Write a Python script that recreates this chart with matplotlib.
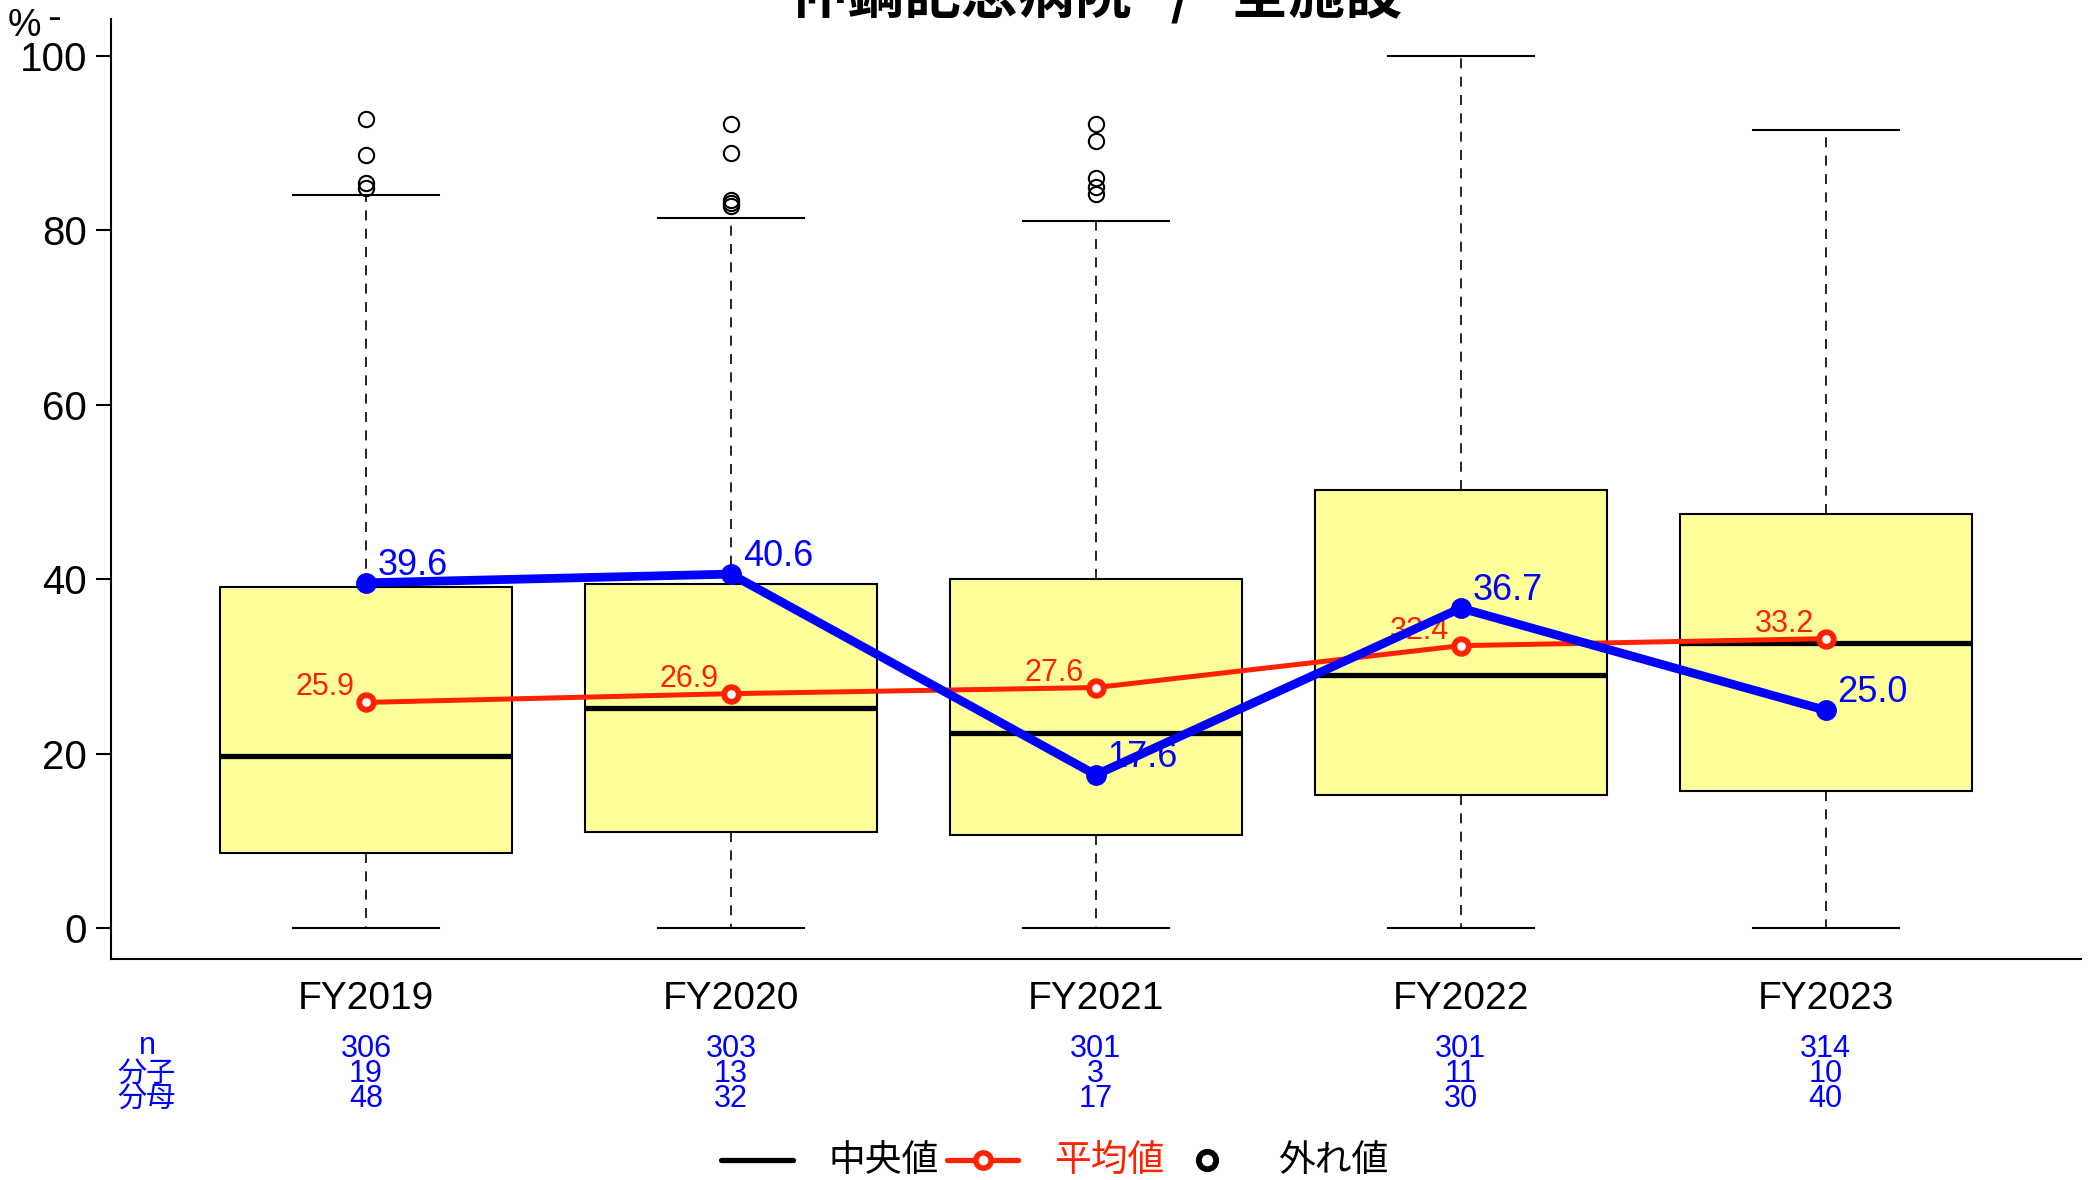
import matplotlib
matplotlib.use('Agg')
import matplotlib.pyplot as plt
from matplotlib.lines import Line2D
from matplotlib.transforms import blended_transform_factory
import matplotlib.font_manager as fm

# ---------------- data ----------------
years = ['FY2019', 'FY2020', 'FY2021', 'FY2022', 'FY2023']
q1 = [8.7, 11.0, 10.7, 15.3, 15.7]
med = [19.8, 25.3, 22.4, 29.0, 32.7]
q3 = [39.1, 39.5, 40.0, 50.2, 47.5]
whislo = [0, 0, 0, 0, 0]
whishi = [84.0, 81.4, 81.1, 100.0, 91.5]
fliers = [[92.7, 88.6, 85.4, 84.8],
          [92.2, 88.8, 83.5, 83.1, 82.8],
          [92.2, 90.2, 86.0, 85.0, 84.1],
          [], []]
means = [25.9, 26.9, 27.6, 32.4, 33.2]
hospital = [39.6, 40.6, 17.6, 36.7, 25.0]
n_vals = [306, 303, 301, 301, 314]
numer = [19, 13, 3, 11, 10]
denom = [48, 32, 17, 30, 40]
yticks = [0, 20, 40, 60, 80, 100]
title = '仲鋼記念病院   /   全施設'
row_labels = ['n', '分子', '分母']
legend_labels = ['中央値', '平均値', '外れ値']

# ---------------- fonts ----------------
def has_font(name):
    try:
        fm.findfont(fm.FontProperties(family=name), fallback_to_default=False)
        return True
    except Exception:
        return False

NARROW = 'Liberation Sans Narrow' if has_font('Liberation Sans Narrow') else 'Liberation Sans'
CJK = 'Noto Sans CJK JP'
plt.rcParams['font.family'] = [NARROW, CJK, 'DejaVu Sans']

W, H = 2089, 1180
fig = plt.figure(figsize=(W / 100, H / 100), dpi=100)
ax = fig.add_axes([110.6 / W, 1 - 959 / H, (2081 - 110.6) / W, (959 - 19) / H])

YELLOW = '#FFFF99'
RED = '#FF2200'
BLUE = '#0000FF'

pos = list(range(1, len(years) + 1))
stats = []
for i in range(len(years)):
    stats.append(dict(med=med[i], q1=q1[i], q3=q3[i], whislo=whislo[i],
                      whishi=whishi[i], fliers=fliers[i], label=years[i]))

ax.bxp(stats, positions=pos, widths=0.8, patch_artist=True,
       showfliers=True, capwidths=0.4,
       boxprops=dict(facecolor=YELLOW, edgecolor='black', linewidth=1.5),
       medianprops=dict(color='black', linewidth=3.8, solid_capstyle='butt'),
       whiskerprops=dict(color='black', linewidth=1.2, linestyle=(0, (6, 5))),
       capprops=dict(color='black', linewidth=1.5),
       flierprops=dict(marker='o', markersize=11, markerfacecolor='none',
                       markeredgecolor='black', markeredgewidth=1.5))

# mean line
ax.plot(pos, means, color=RED, linewidth=3.6, marker='o', markersize=10.5,
        markerfacecolor='white', markeredgecolor=RED, markeredgewidth=4.2,
        zorder=5)
for x, v in zip(pos, means):
    ax.annotate(f'{v:.1f}', (x, v), xytext=(-8.6, 5), textcoords='offset points',
                ha='right', va='baseline', color=RED, fontsize=22,
                family=NARROW, zorder=6)

# hospital line
ax.plot(pos, hospital, color=BLUE, linewidth=6.3, marker='o', markersize=14,
        markerfacecolor=BLUE, markeredgecolor=BLUE, zorder=7)
for x, v in zip(pos, hospital):
    ax.annotate(f'{v:.1f}', (x, v), xytext=(8.6, 5.8), textcoords='offset points',
                ha='left', va='baseline', color=BLUE, fontsize=26,
                family=NARROW, zorder=8)

ax.set_xlim(0.3, 5.7)
ax.set_ylim(-3.5, 104.2)
ax.set_xticks(pos)
ax.set_xticklabels(years, fontsize=28)
ax.set_yticks(yticks)
ax.set_yticklabels([str(t) for t in yticks], fontsize=29)
ax.tick_params(axis='x', length=0, pad=16)
ax.tick_params(axis='y', length=10.8, width=1.5, pad=6)
for s in ['top', 'right']:
    ax.spines[s].set_visible(False)
for s in ['left', 'bottom']:
    ax.spines[s].set_linewidth(1.5)

# title (clipped at top like reference)
fig.text(1096 / W, 1 - 14 / H, title, ha='center', va='baseline',
         fontsize=41, fontweight='bold', family=[CJK, 'DejaVu Sans'])

# % label
fig.text(24 / W, 1 - 26 / H, '%', ha='center', va='center', fontsize=27, family=NARROW)
fig.text(54 / W, 1 - 19 / H, '-', ha='center', va='center', fontsize=30, family=NARROW)

# table under axis
tr = blended_transform_factory(ax.transData, fig.transFigure)
row_y = [1049, 1074, 1099]
for vals, ry in zip([n_vals, numer, denom], row_y):
    for x, v in zip(pos, vals):
        ax.text(x, 1 - ry / H, str(v), transform=tr, ha='center', va='center',
                color=BLUE, fontsize=22, family=NARROW, clip_on=False)
for lab, ry in zip(row_labels, [1046, 1074, 1099]):
    fig.text(147 / W, 1 - ry / H, lab, ha='center', va='center', color=BLUE,
             fontsize=21 if lab != 'n' else 22,
             family=[NARROW, CJK] if lab == 'n' else [CJK, 'DejaVu Sans'])

# legend (manual)
ly = 1 - 1160 / H
fig.add_artist(Line2D([721 / W, 793 / W], [ly, ly], color='black', linewidth=3.8,
                      solid_capstyle='round', transform=fig.transFigure))
fig.text(829 / W, ly, legend_labels[0], ha='left', va='center', fontsize=26.5,
         color='black', family=[CJK, 'DejaVu Sans'])
fig.add_artist(Line2D([947 / W, 1018 / W], [ly, ly], color=RED, linewidth=3.8,
                      solid_capstyle='round', transform=fig.transFigure))
fig.add_artist(Line2D([983 / W], [ly], color=RED, marker='o', markersize=11,
                      markerfacecolor='white', markeredgecolor=RED,
                      markeredgewidth=4.0, linestyle='none', transform=fig.transFigure))
fig.text(1054 / W, ly, legend_labels[1], ha='left', va='center', fontsize=26.5,
         color=RED, family=[CJK, 'DejaVu Sans'])
fig.add_artist(Line2D([1207 / W], [ly], color='black', marker='o', markersize=12.5,
                      markerfacecolor='white', markeredgecolor='black',
                      markeredgewidth=4.2, linestyle='none', transform=fig.transFigure))
fig.text(1278 / W, ly, legend_labels[2], ha='left', va='center', fontsize=26.5,
         color='black', family=[CJK, 'DejaVu Sans'])

fig.savefig('out.png', dpi=100)
